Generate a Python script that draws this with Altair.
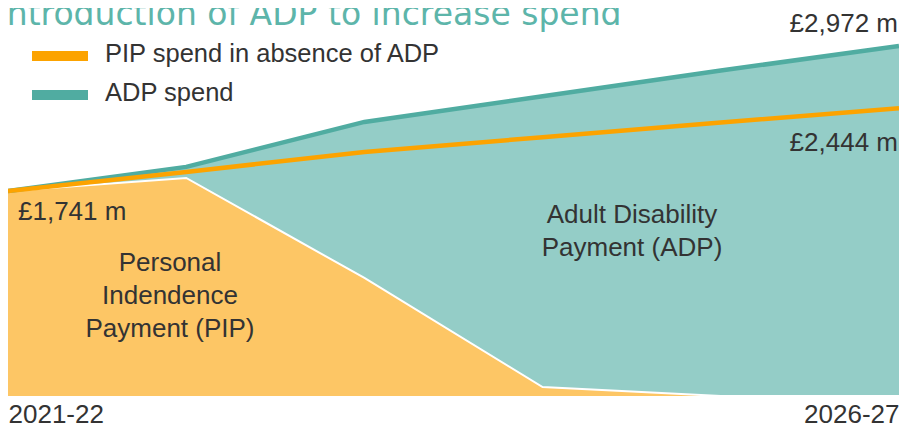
import altair as alt
import pandas as pd

# ---- data (£ million) ----
years = ["2021-22", "2022-23", "2023-24", "2024-25", "2025-26", "2026-27"]
pip_spend = [1741, 1851, 1002, 76, 0, 0]            # PIP area (stack bottom)
adp_spend = [0, 94, 1325, 2469, 2763, 2972]          # ADP area (stacked on PIP)
pip_absent = [1741, 1902, 2072, 2197, 2321, 2444]    # PIP spend in absence of ADP
legend_labels = ["PIP spend in absence of ADP", "ADP spend"]
title_text = "Introduction of ADP to increase spend"

# ---- styles ----
FONT = "Liberation Sans"
TXT = "#333333"
ORANGE = "#FCA300"
ORANGE_FILL = "#FDC665"
TEAL = "#50ACA1"
TEAL_FILL = "#94CDC7"
TITLE_C = "#5DB5AA"

df = pd.DataFrame({
    "year": years,
    "pip": pip_spend,
    "adp": adp_spend,
    "absent": pip_absent,
})
df["total"] = df["pip"] + df["adp"]

W, H = 891, 388
yscale = alt.Scale(domain=[0, 3294], nice=False, zero=True)
X = alt.X(
    "year:N",
    sort=years,
    scale=alt.Scale(type="point", padding=0),
    axis=alt.Axis(
        values=[years[0], years[-1]], labelAngle=0, labelFlush=True,
        ticks=False, domain=False, grid=False, title=None,
        labelFontSize=26, labelColor=TXT, labelFont=FONT, labelPadding=5,
    ),
)

base = alt.Chart(df).encode(x=X)

adp_area = base.mark_area(color=TEAL_FILL, opacity=1).encode(
    y=alt.Y("pip:Q", scale=yscale, axis=None), y2="total:Q")
pip_area = base.mark_area(color=ORANGE_FILL, opacity=1).encode(
    y=alt.Y("pip:Q", scale=yscale, axis=None))
white_edge = base.mark_line(color="white", strokeWidth=2).encode(
    y=alt.Y("pip:Q", scale=yscale, axis=None))
teal_line = base.mark_line(color=TEAL, strokeWidth=4.5).encode(
    y=alt.Y("total:Q", scale=yscale, axis=None))
orange_line = base.mark_line(color=ORANGE, strokeWidth=4.5).encode(
    y=alt.Y("absent:Q", scale=yscale, axis=None))

# value labels anchored to data points
first = df.iloc[[0]]
last = df.iloc[[-1]]
lab_first = alt.Chart(first).transform_calculate(
    lbl="'£' + format(datum.pip, ',') + ' m'").mark_text(
    align="left", baseline="alphabetic", dx=10, dy=29,
    font=FONT, fontSize=26, color=TXT).encode(
    x=X, y=alt.Y("pip:Q", scale=yscale, axis=None), text="lbl:N")
lab_total = alt.Chart(last).transform_calculate(
    lbl="'£' + format(datum.total, ',') + ' m'").mark_text(
    align="right", baseline="alphabetic", dx=-1, dy=-14,
    font=FONT, fontSize=26, color=TXT).encode(
    x=X, y=alt.Y("total:Q", scale=yscale, axis=None), text="lbl:N")
lab_absent = alt.Chart(last).transform_calculate(
    lbl="'£' + format(datum.absent, ',') + ' m'").mark_text(
    align="right", baseline="alphabetic", dx=-1, dy=43,
    font=FONT, fontSize=26, color=TXT).encode(
    x=X, y=alt.Y("absent:Q", scale=yscale, axis=None), text="lbl:N")

one = pd.DataFrame({"k": [0]})

# area labels
adp_lab = alt.Chart(one).mark_text(
    align="center", baseline="alphabetic", lineHeight=33,
    font=FONT, fontSize=26, color=TXT).encode(
    x=alt.value(624), y=alt.value(215),
    text=alt.value(["Adult Disability", "Payment (ADP)"]))
pip_lab = alt.Chart(one).mark_text(
    align="center", baseline="alphabetic", lineHeight=33,
    font=FONT, fontSize=26, color=TXT).encode(
    x=alt.value(162), y=alt.value(263),
    text=alt.value(["Personal", "Indendence", "Payment (PIP)"]))

# legend
leg_layers = []
for lab, col, y0 in zip(legend_labels, [ORANGE, TEAL], [43, 82]):
    leg_layers.append(alt.Chart(one).mark_rect(color=col).encode(
        x=alt.value(24), x2=alt.value(80), y=alt.value(y0), y2=alt.value(y0 + 10)))
    leg_layers.append(alt.Chart(one).mark_text(
        align="left", baseline="alphabetic", font=FONT, fontSize=25.5, color=TXT).encode(
        x=alt.value(97), y=alt.value(y0 + 11), text=alt.value(lab)))

title = alt.Chart(one).mark_text(
    align="left", baseline="alphabetic", font="DejaVu Sans",
    fontSize=33, color=TITLE_C).encode(
    x=alt.value(-11), y=alt.value(16.7), text=alt.value(title_text))

chart = alt.layer(
    adp_area, pip_area, white_edge, teal_line, orange_line,
    lab_first, lab_total, lab_absent, adp_lab, pip_lab, *leg_layers, title,
).properties(
    width=W, height=H,
    autosize=alt.AutoSizeParams(type="none"),
    padding={"left": 0, "top": 0, "right": 0, "bottom": 32},
).configure_view(stroke=None)

chart.save("out.html", embed_options={"renderer": "svg", "actions": False})
